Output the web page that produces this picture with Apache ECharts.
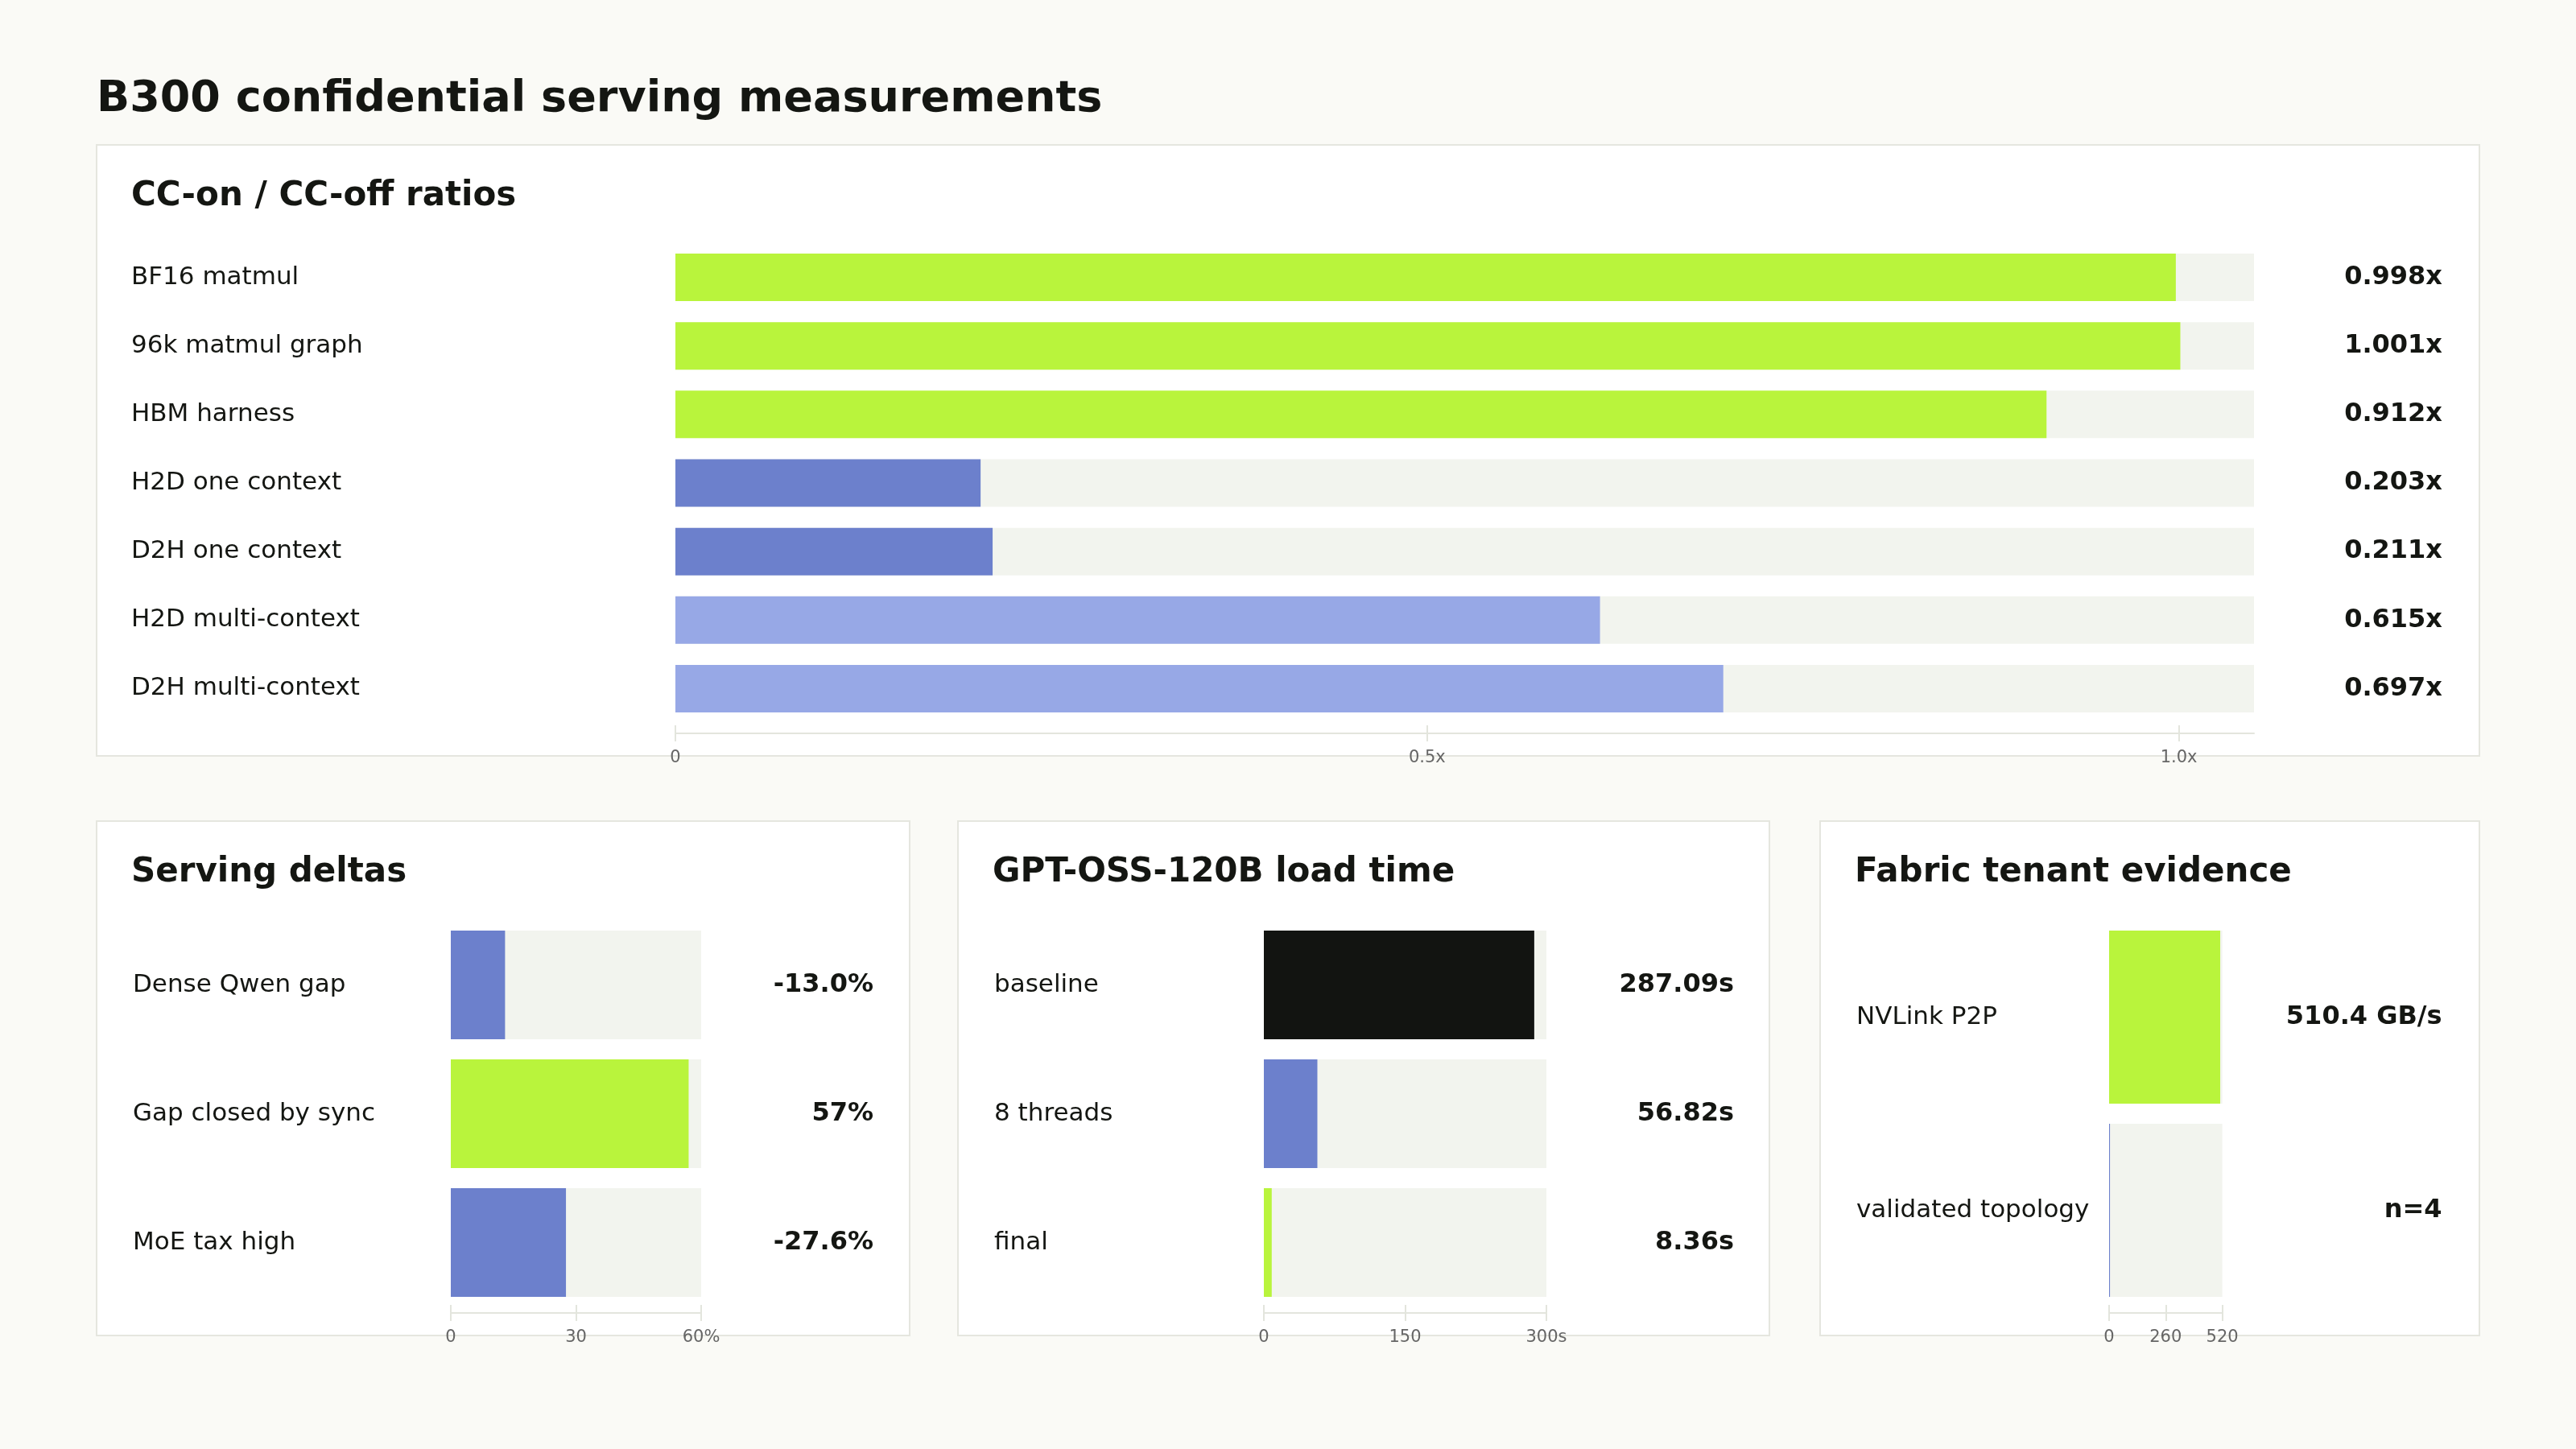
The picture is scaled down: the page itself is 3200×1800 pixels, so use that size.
<!DOCTYPE html>
<html>
<head>
<meta charset="utf-8">
<title>B300 confidential serving measurements</title>
<script src="https://cdn.jsdelivr.net/npm/echarts@6/dist/echarts.min.js"></script>
<style>
  html, body { margin: 0; padding: 0; background: #fafaf6; }
  #chart { width: 3200px; height: 1800px; }
</style>
</head>
<body>
<div id="chart"></div>
<script>
// CC-on / CC-off ratios
const ratioNames = ["BF16 matmul", "96k matmul graph", "HBM harness", "H2D one context", "D2H one context", "H2D multi-context", "D2H multi-context"];
const ratioValues = [0.998, 1.001, 0.912, 0.203, 0.211, 0.615, 0.697];

// Serving deltas (bars show magnitude)
const deltaNames = ["Dense Qwen gap", "Gap closed by sync", "MoE tax high"];
const deltaValues = [-13.0, 57, -27.6];
const deltaLabels = ["-13.0%", "57%", "-27.6%"];

// GPT-OSS-120B load time, seconds
const loadNames = ["baseline", "8 threads", "final"];
const loadValues = [287.09, 56.82, 8.36];

// Fabric tenant evidence
const fabricNames = ["NVLink P2P", "validated topology"];
const fabricValues = [510.4, 4];
const fabricLabels = ["510.4 GB/s", "n=4"];

const GREEN = "#b9f43c";
const BLUE = "#6c80cc";
const LIGHT = "#97a8e6";
const BLACK = "#121411";
const ratioColors = [GREEN, GREEN, GREEN, BLUE, BLUE, LIGHT, LIGHT];
const deltaColors = [BLUE, GREEN, BLUE];
const loadColors = [BLACK, BLUE, GREEN];
const fabricColors = [GREEN, BLUE];

const FONT = "DejaVu Sans";
const INK = "#141612";

const chart = echarts.init(document.getElementById("chart"));

// panel boxes: x, y, w, h
const panels = [
  [120, 180, 2960, 759],
  [120, 1020, 1010, 639],
  [1190, 1020, 1008, 639],
  [2261, 1020, 819, 639]
];

// grid geometry per panel: left, width, top, height, axis offset, barWidth, label margins
const grids = [
  { left: 839, width: 1961, top: 302, height: 596, offset: 13, bar: 59, lm: 676, rm: 234 },
  { left: 560, width: 311, top: 1143.5, height: 480, offset: 7.5, bar: 135, lm: 395, rm: 214 },
  { left: 1570, width: 351, top: 1143.5, height: 480, offset: 7.5, bar: 135, lm: 335, rm: 233 },
  { left: 2620, width: 140.6, top: 1143.5, height: 480, offset: 7.5, bar: 215, lm: 314, rm: 273 }
];

const axisDefs = [
  { max: 1.05, interval: 0.5, custom: [0, 0.5, 1], fmt: v => v === 0 ? "0" : v.toFixed(1) + "x" },
  { max: 60, interval: 30, fmt: v => v === 60 ? "60%" : String(v) },
  { max: 300, interval: 150, fmt: v => v === 300 ? "300s" : String(v) },
  { max: 520, interval: 260, fmt: v => String(v) }
];

const sets = [
  { names: ratioNames, values: ratioValues, labels: ratioValues.map(v => v.toFixed(3) + "x"), colors: ratioColors },
  { names: deltaNames, values: deltaValues.map(Math.abs), labels: deltaLabels, colors: deltaColors },
  { names: loadNames, values: loadValues, labels: loadValues.map(v => v.toFixed(2) + "s"), colors: loadColors },
  { names: fabricNames, values: fabricValues, labels: fabricLabels, colors: fabricColors }
];

const panelTitles = [
  ["CC-on / CC-off ratios", 163, 223],
  ["Serving deltas", 163, 1063],
  ["GPT-OSS-120B load time", 1233, 1063],
  ["Fabric tenant evidence", 2304, 1063]
];

const xAxis = [];
const yAxis = [];
const series = [];

grids.forEach((g, i) => {
  const a = axisDefs[i];
  const base = {
    gridIndex: i,
    type: "value",
    min: 0,
    max: a.max,
    interval: a.interval,
    position: "bottom",
    offset: g.offset,
    splitLine: { show: false }
  };
  xAxis.push(Object.assign({}, base, {
    axisLine: { show: true, lineStyle: { color: "#e3e5dd", width: 2 } },
    axisTick: { show: true, length: 10, lineStyle: { color: "#e3e5dd", width: 2 }, customValues: a.custom },
    axisLabel: {
      show: true, margin: 20, fontFamily: FONT, fontSize: 21, color: "#666",
      formatter: a.fmt, customValues: a.custom
    }
  }));
  xAxis.push(Object.assign({}, base, {
    axisLine: { show: false },
    axisTick: { show: true, inside: true, length: 10, lineStyle: { color: "#e3e5dd", width: 2 }, customValues: a.custom },
    axisLabel: { show: false }
  }));

  yAxis.push({
    gridIndex: i, type: "category", inverse: true, data: sets[i].names,
    axisLine: { show: false }, axisTick: { show: false },
    axisLabel: { align: "left", margin: g.lm, fontFamily: FONT, fontSize: 31, color: INK, padding: [8, 0, 0, 0] }
  });
  yAxis.push({
    gridIndex: i, type: "category", inverse: true, position: "right", data: sets[i].labels,
    axisLine: { show: false }, axisTick: { show: false },
    axisLabel: { align: "right", margin: g.rm, fontFamily: FONT, fontSize: 32, fontWeight: "bold", color: INK, padding: [8, 0, 0, 0] }
  });

  series.push({
    type: "bar",
    xAxisIndex: i * 2,
    yAxisIndex: i * 2,
    barWidth: g.bar,
    showBackground: true,
    backgroundStyle: { color: "#f2f4ee" },
    data: sets[i].values.map((v, k) => ({ value: v, itemStyle: { color: sets[i].colors[k] } })),
    animation: false
  });
});

const option = {
  backgroundColor: "#fafaf6",
  animation: false,
  title: [
    {
      text: "B300 confidential serving measurements",
      left: 120, top: 97, padding: 0,
      textStyle: { fontFamily: FONT, fontSize: 54, fontWeight: "bold", color: INK }
    }
  ].concat(panelTitles.map(t => ({
    text: t[0], left: t[1], top: t[2], padding: 0,
    textStyle: { fontFamily: FONT, fontSize: 42, fontWeight: "bold", color: INK }
  }))),
  graphic: panels.map(p => ({
    type: "rect",
    z: -10,
    silent: true,
    shape: { x: p[0], y: p[1], width: p[2], height: p[3] },
    style: { fill: "#ffffff", stroke: "#e5e6df", lineWidth: 2 }
  })),
  grid: grids.map(g => ({ left: g.left, width: g.width, top: g.top, height: g.height })),
  xAxis: xAxis,
  yAxis: yAxis,
  series: series
};

chart.setOption(option);
</script>
</body>
</html>
